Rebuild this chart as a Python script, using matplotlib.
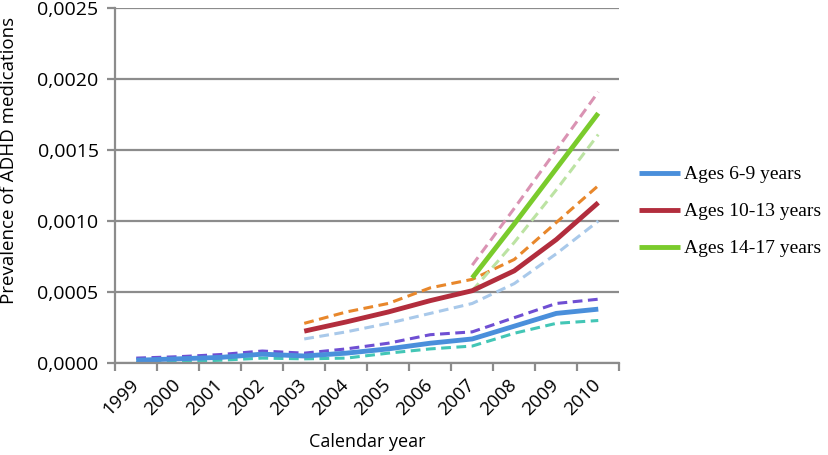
import numpy as np
import matplotlib
matplotlib.use("Agg")
import matplotlib.pyplot as plt
from matplotlib.ticker import FuncFormatter, FixedLocator

years = [1999, 2000, 2001, 2002, 2003, 2004, 2005, 2006, 2007, 2008, 2009, 2010]

# ages 6-9 (from 1999)
a69 = [0.00002, 0.00003, 0.00004, 0.000063, 0.00005, 0.00007, 0.0001, 0.00014, 0.00017, 0.00026, 0.00035, 0.00038]
a69_hi = [0.000035, 0.000045, 0.00006, 0.000085, 0.00007, 0.0001, 0.00014, 0.0002, 0.00022, 0.00032, 0.00042, 0.00045]
a69_lo = [0.000005, 0.00001, 0.00002, 0.000035, 0.00003, 0.000035, 0.00007, 0.0001, 0.00012, 0.00021, 0.00028, 0.0003]

# ages 10-13 (from 2003)
a1013 = [0.000225, 0.00029, 0.00036, 0.00044, 0.00051, 0.00065, 0.00087, 0.00113]
a1013_hi = [0.00028, 0.00036, 0.00042, 0.00053, 0.00059, 0.00073, 0.00099, 0.00125]
a1013_lo = [0.00017, 0.00022, 0.00028, 0.00035, 0.00042, 0.00056, 0.00077, 0.001]

# ages 14-17 (from 2007)
a1417 = [0.0006, 0.00098, 0.00137, 0.00176]
a1417_hi = [0.00069, 0.00109, 0.0015, 0.00191]
a1417_lo = [0.00051, 0.00085, 0.00122, 0.00161]

plt.rcParams['font.family'] = ['Open Sans', 'DejaVu Sans']

fig = plt.figure(figsize=(8.29, 4.55), dpi=100)
ax = fig.add_axes([0.139, 0.202, 0.608, 0.780])

x = np.arange(len(years))
x13 = x[4:]
x17 = x[8:]

dash = dict(lw=2.2, linestyle=(0, (3.2, 1.8)))
ax.plot(x, a69_hi, color='#6F4FD3', **dash)
ax.plot(x, a69_lo, color='#43C6B6', **dash)
ax.plot(x13, a1013_hi, color='#E8872B', **dash)
ax.plot(x13, a1013_lo, color='#A9C9EA', **dash)
ax.plot(x17, a1417_hi, color='#DA93B3', **dash)
ax.plot(x17, a1417_lo, color='#BCE3A3', **dash)

l1, = ax.plot(x, a69, color='#4A8FDB', lw=3.5, solid_capstyle='butt')
l2, = ax.plot(x13, a1013, color='#B22D3D', lw=3.5, solid_capstyle='butt')
l3, = ax.plot(x17, a1417, color='#7ACB2C', lw=3.5, solid_capstyle='butt')

ax.set_xlim(-0.5, len(years) - 0.5)
ax.set_ylim(0, 0.0025)
ax.set_yticks(np.arange(0, 0.00251, 0.0005))
ax.yaxis.set_major_formatter(FuncFormatter(lambda v, p: ('%.4f' % v).replace('.', ',')))
ax.grid(axis='y', color='#8c8c8c', lw=1.6)
ax.set_axisbelow(True)

ax.xaxis.set_major_locator(FixedLocator(np.arange(-0.5, len(years), 1.0)))
ax.xaxis.set_minor_locator(FixedLocator(x))
ax.set_xticklabels([])
ax.set_xticklabels([str(y) for y in years], minor=True, rotation=45,
                   ha='right', va='center', rotation_mode='anchor')
ax.tick_params(axis='x', which='major', length=6, width=1.6, color='#8c8c8c', direction='out')
ax.tick_params(axis='x', which='minor', length=0, pad=14, labelsize=13.5)
ax.tick_params(axis='y', length=6, width=1.6, color='#8c8c8c', labelsize=14, pad=6)

for s in ['top', 'right']:
    ax.spines[s].set_visible(False)
for s in ['left', 'bottom']:
    ax.spines[s].set_color('#8c8c8c')
    ax.spines[s].set_linewidth(1.6)

ax.set_xlabel('Calendar year', fontsize=13, labelpad=10)
ax.set_ylabel('Prevalence of ADHD medications', fontsize=13.5)
ax.yaxis.set_label_coords(-0.192, 0.572)

fig.legend([l1, l2, l3], ['Ages 6-9 years', 'Ages 10-13 years', 'Ages 14-17 years'],
           loc='center left', bbox_to_anchor=(0.762, 0.535), frameon=False,
           prop={'family': 'Liberation Serif', 'size': 14}, handlelength=2.1,
           labelspacing=1.0, handletextpad=0.2, borderaxespad=0.0)

fig.savefig('out.png', dpi=100)
